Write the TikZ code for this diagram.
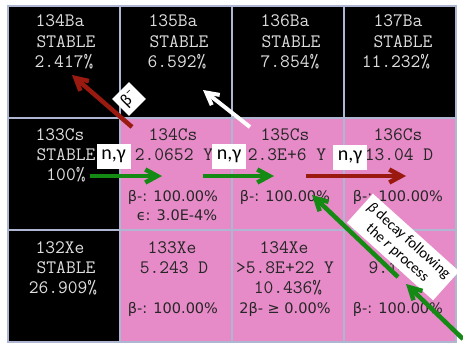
\documentclass[tikz,border=0pt]{standalone}
\usepackage{fontspec}
\setmainfont{Carlito}
\newfontfamily\dvs{DejaVu Sans}
\usetikzlibrary{arrows.meta}
\definecolor{pinkc}{HTML}{E68BC7}
\definecolor{gridc}{HTML}{AEB6D2}
\definecolor{greenc}{HTML}{148A14}
\definecolor{redc}{HTML}{9A1A10}
\definecolor{lightt}{HTML}{DEDEDE}
\definecolor{darkt}{HTML}{262626}
\tikzset{
  cell/.style={minimum width=112pt, minimum height=112pt, inner sep=0pt, outer sep=0pt, draw=gridc, line width=1.5pt},
  blk/.style={cell, fill=black},
  pnk/.style={cell, fill=pinkc},
  mono/.style={font=\ttfamily\fontsize{19}{20}\selectfont, anchor=base, inner sep=0pt},
  sans/.style={font=\dvs\fontsize{14.5}{16}\selectfont, anchor=base, inner sep=0pt},
  lt/.style={text=lightt},
  dk/.style={text=darkt},
  nglabel/.style={fill=white, font=\fontsize{20}{22}\selectfont, minimum width=34pt, minimum height=25pt, inner sep=0pt},
  arr/.style={line width=4.5pt, -{Straight Barb[length=12pt,width=13pt]}},
}
\begin{document}
\begin{tikzpicture}[x=1pt,y=-1pt]
\useasboundingbox[fill=white] (0,0) rectangle (463,348);
% cells
\node[blk] (c11) at (64,62) {};
\node[blk] (c12) at (176,62) {};
\node[blk] (c13) at (288,62) {};
\node[blk] (c14) at (400,62) {};
\node[blk] (c21) at (64,174) {};
\node[pnk] (c22) at (176,174) {};
\node[pnk] (c23) at (288,174) {};
\node[pnk] (c24) at (400,174) {};
\node[blk] (c31) at (64,286) {};
\node[pnk] (c32) at (176,286) {};
\node[pnk] (c33) at (288,286) {};
\node[pnk] (c34) at (400,286) {};
% row 1
\node[mono,lt] (ba134n) at (60,27) {134Ba};
\node[mono,lt] (ba134s) at (66,47) {STABLE};
\node[mono,lt] (ba134p) at (64,67) {2.417\%};
\node[mono,lt] (ba135n) at (173,27) {135Ba};
\node[mono,lt] (ba135s) at (179,47) {STABLE};
\node[mono,lt] (ba135p) at (177,67) {6.592\%};
\node[mono,lt] (ba136n) at (285,27) {136Ba};
\node[mono,lt] (ba136s) at (291,47) {STABLE};
\node[mono,lt] (ba136p) at (290,67) {7.854\%};
\node[mono,lt] (ba137n) at (398,27) {137Ba};
\node[mono,lt] (ba137s) at (403,47) {STABLE};
\node[mono,lt] (ba137p) at (396,67) {11.232\%};
% row 2
\node[mono,lt] (cs133n) at (60,140) {133Cs};
\node[mono,lt] (cs133s) at (66,160) {STABLE};
\node[mono,lt] (cs133p) at (66,180) {100\%};
\node[mono,dk] (cs134n) at (173,140) {134Cs};
\node[mono,dk] (cs134h) at (174,160) {2.0652 Y};
\node[sans,dk] (cs134b) at (173,201) {β-: 100.00\%};
\node[sans,dk] (cs134e) at (177,220) {ϵ: 3.0E-4\%};
\node[mono,dk] (cs135n) at (285,140) {135Cs};
\node[mono,dk] (cs135h) at (287,160) {2.3E+6 Y};
\node[sans,dk] (cs135b) at (285,201) {β-: 100.00\%};
\node[mono,dk] (cs136n) at (398,140) {136Cs};
\node[mono,dk] (cs136h) at (399,160) {13.04 D};
\node[sans,dk] (cs136b) at (398,201) {β-: 100.00\%};
% row 3
\node[mono,lt] (xe132n) at (60,253) {132Xe};
\node[mono,lt] (xe132s) at (66,273) {STABLE};
\node[mono,lt] (xe132p) at (63,293) {26.909\%};
\node[mono,dk] (xe133n) at (172,253) {133Xe};
\node[mono,dk] (xe133h) at (174,273) {5.243 D};
\node[sans,dk] (xe133b) at (173,313) {β-: 100.00\%};
\node[mono,dk] (xe134n) at (284,253) {134Xe};
\node[mono,dk] (xe134h) at (285,273) {>5.8E+22 Y};
\node[mono,dk] (xe134p) at (288,293) {10.436\%};
\node[sans,dk] (xe134b) at (285,313) {2β- ≥ 0.00\%};
\node[mono,dk] (xe135h) at (398,273) {9.14 H};
\node[sans,dk] (xe135b) at (398,313) {β-: 100.00\%};
% arrow end points
\coordinate (g1s) at (90,176);
\coordinate (g1e) at (162,176);
\coordinate (g2s) at (203,176);
\coordinate (g2e) at (274,176);
\coordinate (r1s) at (306,176);
\coordinate (r1e) at (406,176);
\coordinate (bms) at (132,127);
\coordinate (bme) at (72,75);
\coordinate (ws) at (250,127);
\coordinate (we) at (203,90);
\coordinate (gas) at (398,277);
\coordinate (gae) at (312,195);
\coordinate (gbs) at (463,339);
\coordinate (gbe) at (406,284);
% labels
\node[nglabel] (ng1) at (113.5,156) {n,γ};
\node[nglabel] (ng2) at (229,156) {n,γ};
\node[nglabel] (ng3) at (350,157) {n,γ};
\node[fill=white, minimum size=24pt, inner sep=0pt, rotate=45, font=\fontsize{17}{18}\selectfont] (bm) at (129,99) {β\textsuperscript{–}};
\node[fill=white, rotate=-42, align=center, minimum width=116pt, minimum height=39pt, inner sep=1pt, font=\fontsize{15}{17}\selectfont] (rlab) at (403,247) {\textit{β} decay following\\the \textit{r} process};
% arrows
\draw[arr, greenc] (g1s) -- (g1e);
\draw[arr, greenc] (g2s) -- (g2e);
\draw[arr, redc] (r1s) -- (r1e);
\draw[arr, redc] (bms) -- (bme);
\draw[arr, white, line width=4pt] (ws) -- (we);
\draw[arr, greenc] (gas) -- (gae);
\draw[arr, greenc] (gbs) -- (gbe);
\end{tikzpicture}
\end{document}
